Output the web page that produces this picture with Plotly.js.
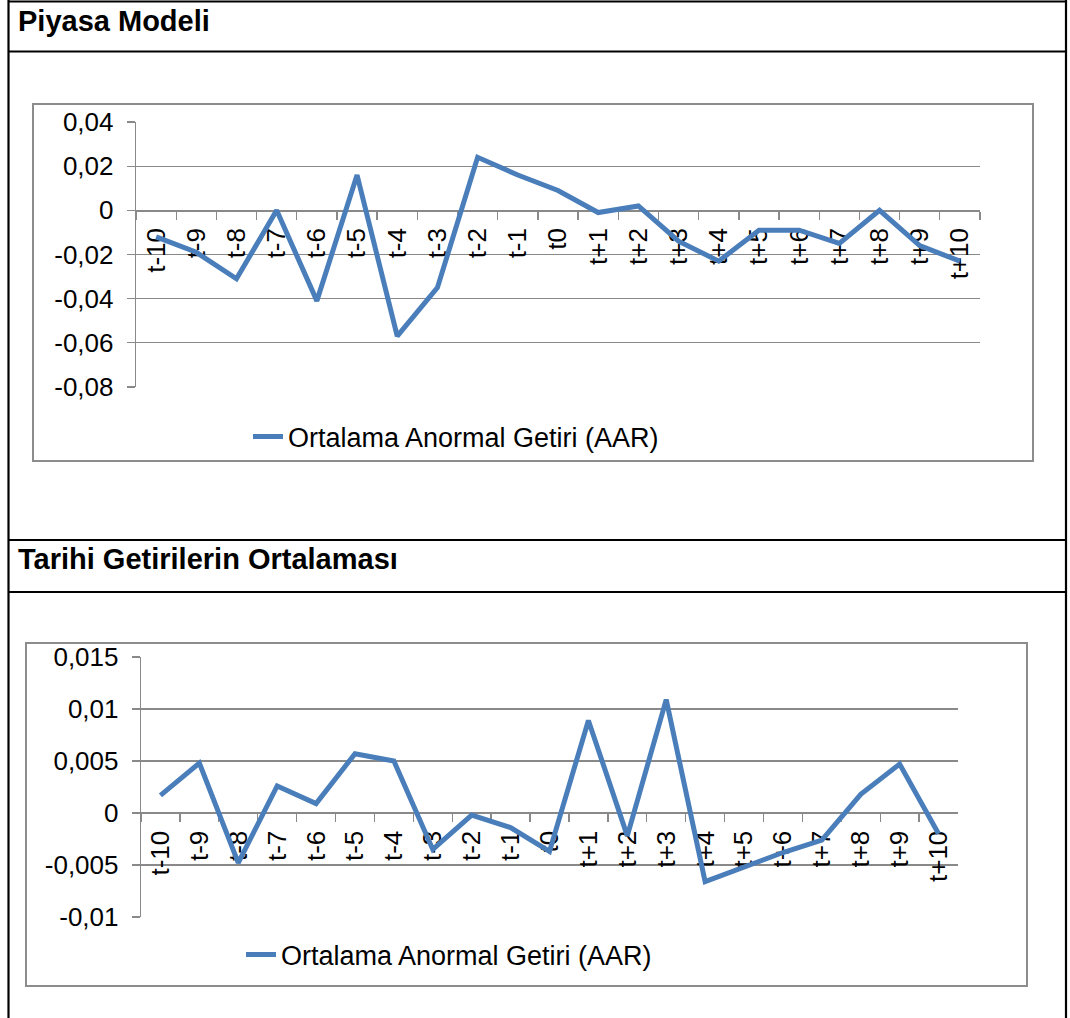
<!DOCTYPE html>
<html>
<head>
<meta charset="utf-8">
<script src="https://cdn.plot.ly/plotly-3.0.1.min.js"></script>
<style>
  html, body { margin: 0; padding: 0; background: #fff; }
  #chart { width: 1070px; height: 1018px; }
</style>
</head>
<body>
<div id="chart"></div>
<script>
// ---- Data ----
const categories = ['t-10','t-9','t-8','t-7','t-6','t-5','t-4','t-3','t-2','t-1','t0',
                    't+1','t+2','t+3','t+4','t+5','t+6','t+7','t+8','t+9','t+10'];
const piyasaAAR = [-0.012, -0.019, -0.031, 0.000, -0.041, 0.016, -0.057, -0.035, 0.024, 0.016, 0.009,
                   -0.001, 0.002, -0.014, -0.023, -0.009, -0.009, -0.015, 0.000, -0.016, -0.023];
const tarihiAAR = [0.0017, 0.0048, -0.0048, 0.0026, 0.0009, 0.0057, 0.0050, -0.0035, -0.0002, -0.0014, -0.0037,
                   0.0089, -0.0022, 0.0109, -0.0066, -0.0052, -0.0038, -0.0026, 0.0018, 0.0047, -0.0020];
const piyasaTickVals = [0.04, 0.02, 0, -0.02, -0.04, -0.06, -0.08];
const piyasaTickText = ['0,04', '0,02', '0', '-0,02', '-0,04', '-0,06', '-0,08'];
const tarihiTickVals = [0.015, 0.01, 0.005, 0, -0.005, -0.01];
const tarihiTickText = ['0,015', '0,01', '0,005', '0', '-0,005', '-0,01'];
const seriesName = 'Ortalama Anormal Getiri (AAR)';
const header1 = 'Piyasa Modeli';
const header2 = 'Tarihi Getirilerin Ortalaması';

// ---- Geometry helpers (pixel -> paper) ----
const W = 1070, H = 1018;
const X = px => px / W;
const Y = py => 1 - py / H;
const FONT = 'Liberation Sans, Arial, sans-serif';
const LINE = '#4A7EBB';
const GRID = '#898989';
const FS = 26;

const r1 = [-0.08, 0.04], r2 = [-0.01, 0.015];
const d1 = [Y(387), Y(122)], d2 = [Y(917), Y(657)];
const zeroPos = (d, r) => d[0] + (d[1] - d[0]) * (0 - r[0]) / (r[1] - r[0]);

const traces = [
  { x: categories, y: piyasaAAR, type: 'scatter', mode: 'lines', name: seriesName, showlegend: true,
    line: { color: LINE, width: 5 }, xaxis: 'x', yaxis: 'y', legend: 'legend' },
  { x: categories, y: tarihiAAR, type: 'scatter', mode: 'lines', name: seriesName, showlegend: true,
    line: { color: LINE, width: 5 }, xaxis: 'x2', yaxis: 'y2', legend: 'legend2' }
];

const xCommon = {
  type: 'category', tickson: 'boundaries', ticks: 'outside', ticklen: 8, tickcolor: GRID, tickwidth: 1.3,
  showline: true, linecolor: GRID, linewidth: 1.3, showgrid: false, zeroline: false,
  tickangle: -90, tickfont: { family: FONT, size: FS, color: '#000' }, anchor: 'free', ticklabelstandoff: 6,
  layer: 'below traces', range: [-0.5, categories.length - 0.5], fixedrange: true
};
const yCommon = {
  ticks: 'outside', ticklen: 8, tickcolor: GRID, tickwidth: 1.3, showline: true, linecolor: GRID, linewidth: 1.3,
  showgrid: true, gridcolor: GRID, gridwidth: 1.3, zeroline: false,
  tickfont: { family: FONT, size: FS, color: '#000' }, ticklabelstandoff: 8, fixedrange: true
};

const blk = { color: '#000', width: 2.2 };
const gry = { color: '#8c8c8c', width: 2 };
const shapes = [
  // table borders
  { type: 'line', xref: 'paper', yref: 'paper', x0: X(8.5), x1: X(8.5), y0: Y(0), y1: Y(1018), line: blk },
  { type: 'line', xref: 'paper', yref: 'paper', x0: X(1066), x1: X(1066), y0: Y(0), y1: Y(1018), line: blk },
  { type: 'line', xref: 'paper', yref: 'paper', x0: X(8), x1: X(1067), y0: Y(1.5), y1: Y(1.5), line: blk },
  { type: 'line', xref: 'paper', yref: 'paper', x0: X(8), x1: X(1067), y0: Y(51.5), y1: Y(51.5), line: blk },
  { type: 'line', xref: 'paper', yref: 'paper', x0: X(8), x1: X(1067), y0: Y(540), y1: Y(540), line: blk },
  { type: 'line', xref: 'paper', yref: 'paper', x0: X(8), x1: X(1067), y0: Y(592), y1: Y(592), line: blk },
  // chart area boxes
  { type: 'rect', xref: 'paper', yref: 'paper', x0: X(33), x1: X(1033), y0: Y(461), y1: Y(104), line: gry, layer: 'below' },
  { type: 'rect', xref: 'paper', yref: 'paper', x0: X(26), x1: X(1027), y0: Y(986), y1: Y(643), line: gry, layer: 'below' }
];

const legendStyle = { xanchor: 'left', yanchor: 'middle', bgcolor: 'rgba(0,0,0,0)', borderwidth: 0,
                      visible: true, font: { family: FONT, size: 27, color: '#000' }, itemwidth: 30 };

const layout = {
  width: W, height: H, margin: { l: 0, r: 0, t: 0, b: 0 },
  paper_bgcolor: '#fff', plot_bgcolor: 'rgba(0,0,0,0)', showlegend: true,
  font: { family: FONT, color: '#000' },
  xaxis: Object.assign({}, xCommon, { domain: [X(136), X(980)], position: zeroPos(d1, r1) }),
  yaxis: Object.assign({}, yCommon, { domain: d1, range: r1, tickvals: piyasaTickVals, ticktext: piyasaTickText, anchor: 'x' }),
  xaxis2: Object.assign({}, xCommon, { domain: [X(141), X(958)], position: zeroPos(d2, r2) }),
  yaxis2: Object.assign({}, yCommon, { domain: d2, range: r2, tickvals: tarihiTickVals, ticktext: tarihiTickText, anchor: 'x2' }),
  legend: Object.assign({}, legendStyle, { x: X(248), y: Y(437) }),
  legend2: Object.assign({}, legendStyle, { x: X(241), y: Y(955) }),
  shapes: shapes,
  annotations: [
    { text: '<b>' + header1 + '</b>', xref: 'paper', yref: 'paper', x: X(16), y: Y(21), xanchor: 'left', yanchor: 'middle',
      showarrow: false, font: { family: FONT, size: 29, color: '#000' } },
    { text: '<b>' + header2 + '</b>', xref: 'paper', yref: 'paper', x: X(16), y: Y(559), xanchor: 'left', yanchor: 'middle',
      showarrow: false, font: { family: FONT, size: 29, color: '#000' } }
  ]
};

Plotly.newPlot('chart', traces, layout, { staticPlot: true, displayModeBar: false });
</script>
</body>
</html>
